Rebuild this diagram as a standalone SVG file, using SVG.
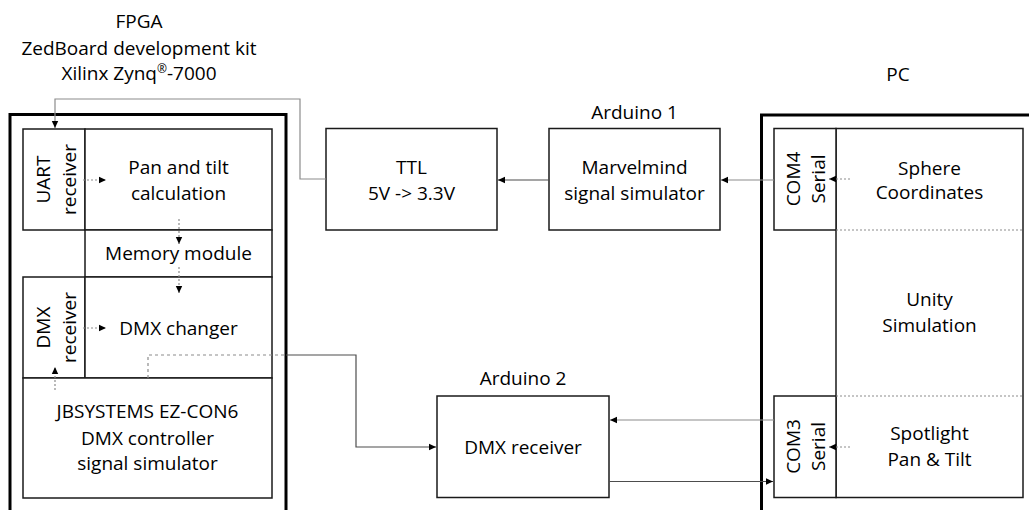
<svg xmlns="http://www.w3.org/2000/svg" width="1029" height="510" viewBox="0 0 1029 510">
<style>
.t{font-family:"Open Sans","Liberation Sans",sans-serif;font-size:19px;fill:#000;text-anchor:middle}
.box{fill:#fff;stroke:#1a1a1a;stroke-width:1.5}
.outer{fill:none;stroke:#000;stroke-width:3}
.c{fill:none;stroke:#8c8c8c;stroke-width:1.2}
.cd{fill:none;stroke:#4d4d4d;stroke-width:1.2}
.dash{fill:none;stroke:#8c8c8c;stroke-width:1.2;stroke-dasharray:3 3}
.dot{fill:none;stroke:#8c8c8c;stroke-width:1.2;stroke-dasharray:2 2}
</style>
<defs>
<marker id="a" markerWidth="8" markerHeight="8" refX="7" refY="4" orient="auto" markerUnits="userSpaceOnUse"><path d="M0,0.8 L7,4 L0,7.2 z" fill="#000"/></marker>
</defs>

<g id="fpga">
<text class="t" x="139" y="28">FPGA</text>
<text class="t" x="139" y="55">ZedBoard development kit</text>
<text class="t" x="139" y="80">Xilinx Zynq<tspan font-size="12" dy="-7">®</tspan><tspan dy="7">-7000</tspan></text>
<rect class="outer" x="10" y="114.5" width="276" height="420"/>
</g>
<g id="uart">
<rect class="box" x="23" y="129" width="62" height="101"/>
<text class="t" transform="translate(54,179.5) rotate(-90)"><tspan x="0" y="-4">UART</tspan><tspan x="0" y="22">receiver</tspan></text>
</g>
<g id="pantilt">
<rect class="box" x="85" y="129" width="187" height="101"/>
<text class="t" x="178.5" y="174">Pan and tilt</text>
<text class="t" x="178.5" y="200">calculation</text>
</g>
<g id="memory">
<rect class="box" x="85" y="230" width="187" height="47"/>
<text class="t" x="178.5" y="260">Memory module</text>
</g>
<g id="dmxrecv">
<rect class="box" x="23" y="277" width="62" height="101"/>
<text class="t" transform="translate(54,327.5) rotate(-90)"><tspan x="0" y="-4">DMX</tspan><tspan x="0" y="22">receiver</tspan></text>
</g>
<g id="dmxchanger">
<rect class="box" x="85" y="277" width="187" height="101"/>
<text class="t" x="178.5" y="335">DMX changer</text>
</g>
<g id="jbsystems">
<rect class="box" x="23" y="378" width="249" height="120"/>
<text class="t" x="147.5" y="418">JBSYSTEMS EZ-CON6</text>
<text class="t" x="147.5" y="445">DMX controller</text>
<text class="t" x="147.5" y="470">signal simulator</text>
</g>

<g id="ttl">
<rect class="box" x="326" y="128.5" width="171" height="101.5"/>
<text class="t" x="411.5" y="174">TTL</text>
<text class="t" x="411.5" y="200">5V -&gt; 3.3V</text>
</g>
<g id="arduino1">
<text class="t" x="634.5" y="119">Arduino 1</text>
<rect class="box" x="549" y="128.5" width="171" height="101.5"/>
<text class="t" x="634.5" y="174">Marvelmind</text>
<text class="t" x="634.5" y="200">signal simulator</text>
</g>
<g id="arduino2">
<text class="t" x="523" y="385">Arduino 2</text>
<rect class="box" x="437" y="396" width="172" height="101.5"/>
<text class="t" x="523" y="454">DMX receiver</text>
</g>

<g id="pc">
<text class="t" x="898" y="81">PC</text>
<rect class="outer" x="761.5" y="115" width="300" height="420"/>
<rect class="box" x="836" y="128.5" width="187" height="369"/>
</g>
<g id="com4">
<rect class="box" x="774" y="128.5" width="62" height="101.5"/>
<text class="t" transform="translate(805,179) rotate(-90)"><tspan x="0" y="-5">COM4</tspan><tspan x="0" y="20">Serial</tspan></text>
</g>
<g id="sphere">
<line class="dot" x1="836" y1="230" x2="1023" y2="230"/>
<text class="t" x="929.5" y="175">Sphere</text>
<text class="t" x="929.5" y="199">Coordinates</text>
</g>
<g id="unity">
<text class="t" x="929.5" y="306">Unity</text>
<text class="t" x="929.5" y="332">Simulation</text>
</g>
<g id="com3">
<rect class="box" x="774" y="396" width="62" height="101.5"/>
<text class="t" transform="translate(805,446.5) rotate(-90)"><tspan x="0" y="-5">COM3</tspan><tspan x="0" y="20">Serial</tspan></text>
</g>
<g id="spotlight">
<line class="dot" x1="836" y1="396" x2="1023" y2="396"/>
<text class="t" x="929.5" y="440">Spotlight</text>
<text class="t" x="929.5" y="466">Pan &amp; Tilt</text>
</g>

<g id="connectors">
<path class="c" d="M326,179 H300 V99 H55 V128" marker-end="url(#a)"/>
<path class="cd" d="M549,180 H498" marker-end="url(#a)"/>
<path class="c" d="M774,180 H721" marker-end="url(#a)"/>
<path class="dot" d="M850,179 H829" marker-end="url(#a)"/>
<path class="dot" d="M850,447 H829" marker-end="url(#a)"/>
<path class="c" d="M774,420 H610" marker-end="url(#a)"/>
<path class="cd" d="M609,481.5 H773" marker-end="url(#a)"/>
<path class="dash" d="M148,378 V355 H286"/>
<path class="cd" d="M286,355 H356 V447 H436" marker-end="url(#a)"/>
<path class="dot" d="M83,180 H106" marker-end="url(#a)"/>
<path class="dot" d="M83,328 H106" marker-end="url(#a)"/>
<path class="dot" d="M179,219 V244" marker-end="url(#a)"/>
<path class="dot" d="M179,267 V293" marker-end="url(#a)"/>
<path class="dot" d="M55,390 V367" marker-end="url(#a)"/>
</g>
</svg>
